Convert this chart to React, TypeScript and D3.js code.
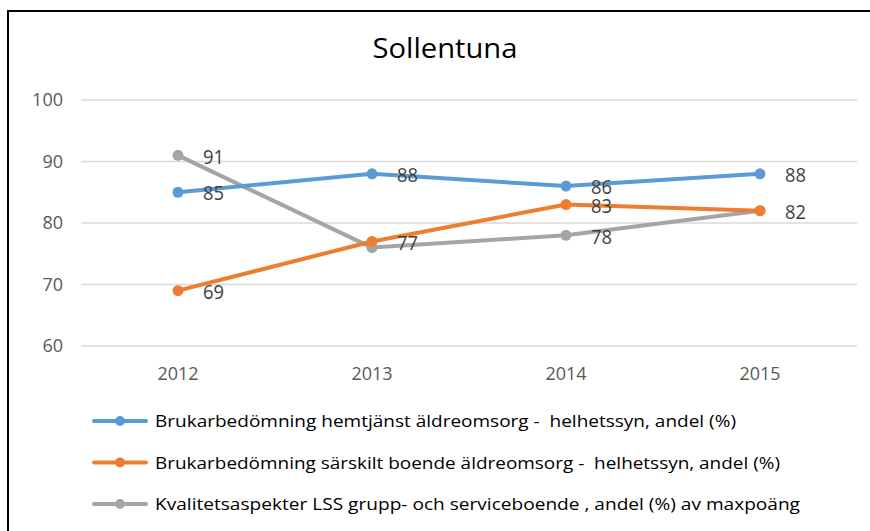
import React from "react";
import * as d3 from "d3";

const years = ["2012", "2013", "2014", "2015"];
const hemtjanst = [85, 88, 86, 88];
const sarskilt = [69, 77, 83, 82];
const lss = [91, 76, 78, 82];
const hemtjanstLabels = ["85", "88", "86", "88"];
const sarskiltLabels = ["69", "77", "83", "82"];
const lssLabels = ["91", "", "78", ""];
const yTicks = [60, 70, 80, 90, 100];
const seriesNames = [
  "Brukarbedömning hemtjänst äldreomsorg -  helhetssyn, andel (%)",
  "Brukarbedömning särskilt boende äldreomsorg -  helhetssyn, andel (%)",
  "Kvalitetsaspekter LSS grupp- och serviceboende , andel (%) av maxpoäng",
];
const legendWidths = [581, 625, 645];
const colors = ["#5B9BD5", "#ED7D31", "#A5A5A5"];

const FONT = "'Open Sans', Lato, sans-serif";

export default function App() {
  const W = 870;
  const H = 531;
  const x = d3.scaleBand<string>().domain(years).range([81, 857]);
  const y = d3.scaleLinear().domain([60, 100]).range([346, 100]);
  const cx = (yr: string) => (x(yr) as number) + x.bandwidth() / 2;
  const line = d3
    .line<number>()
    .x((_, i) => cx(years[i]))
    .y((d) => y(d));

  const series = [
    { values: hemtjanst, labels: hemtjanstLabels, color: colors[0] },
    { values: sarskilt, labels: sarskiltLabels, color: colors[1] },
    { values: lss, labels: lssLabels, color: colors[2] },
  ];
  const drawOrder = [2, 1, 0];

  return (
    <svg
      width={W}
      height={H}
      style={{ position: "absolute", left: 0, top: 0, background: "#fff" }}
    >
      <rect x={0} y={0} width={W} height={H} fill="#fff" />
      <line x1={8} y1={11} x2={W} y2={11} stroke="#000" strokeWidth={2} />
      <line x1={8} y1={10} x2={8} y2={H} stroke="#000" strokeWidth={2} />
      <text
        x={445}
        y={58}
        textAnchor="middle"
        fontFamily={FONT}
        fontSize={28}
        fill="#000"
        textLength={145}
        lengthAdjust="spacingAndGlyphs"
      >
        Sollentuna
      </text>
      {yTicks.map((t) => (
        <g key={t}>
          <line
            x1={81}
            x2={857}
            y1={y(t)}
            y2={y(t)}
            stroke="#D9D9D9"
            strokeWidth={1.5}
          />
          <text
            x={63}
            y={y(t)}
            dy="0.36em"
            textAnchor="end"
            fontFamily={FONT}
            fontSize={18}
            fill="#595959"
          >
            {t}
          </text>
        </g>
      ))}
      {years.map((yr) => (
        <text
          key={yr}
          x={cx(yr)}
          y={374}
          dy="0.36em"
          textAnchor="middle"
          fontFamily={FONT}
          fontSize={18}
          fill="#595959"
        >
          {yr}
        </text>
      ))}
      {drawOrder.map((si) => {
        const s = series[si];
        return (
          <g key={si}>
            <path
              d={line(s.values) as string}
              fill="none"
              stroke={s.color}
              strokeWidth={4}
              strokeLinejoin="round"
              strokeLinecap="round"
            />
            {s.values.map((v, i) => (
              <circle key={i} cx={cx(years[i])} cy={y(v)} r={5.5} fill={s.color} />
            ))}
          </g>
        );
      })}
      {series.map((s, si) =>
        s.values.map((v, i) =>
          s.labels[i] ? (
            <text
              key={`${si}-${i}`}
              x={cx(years[i]) + 25}
              y={y(v) + 1}
              dy="0.36em"
              fontFamily={FONT}
              fontSize={20}
              fill="#404040"
              textLength={21}
              lengthAdjust="spacingAndGlyphs"
            >
              {s.labels[i]}
            </text>
          ) : null
        )
      )}
      {seriesNames.map((name, i) => {
        const ly = 421 + i * 41.5;
        return (
          <g key={name}>
            <line
              x1={94}
              x2={146}
              y1={ly}
              y2={ly}
              stroke={colors[i]}
              strokeWidth={4}
              strokeLinecap="round"
            />
            <circle cx={120} cy={ly} r={5} fill={colors[i]} />
            <text
              x={155}
              y={ly}
              dy="0.36em"
              fontFamily={FONT}
              fontSize={17}
              fill="#000"
              textLength={legendWidths[i]}
              lengthAdjust="spacingAndGlyphs"
              style={{ whiteSpace: "pre" }}
            >
              {name}
            </text>
          </g>
        );
      })}
    </svg>
  );
}
